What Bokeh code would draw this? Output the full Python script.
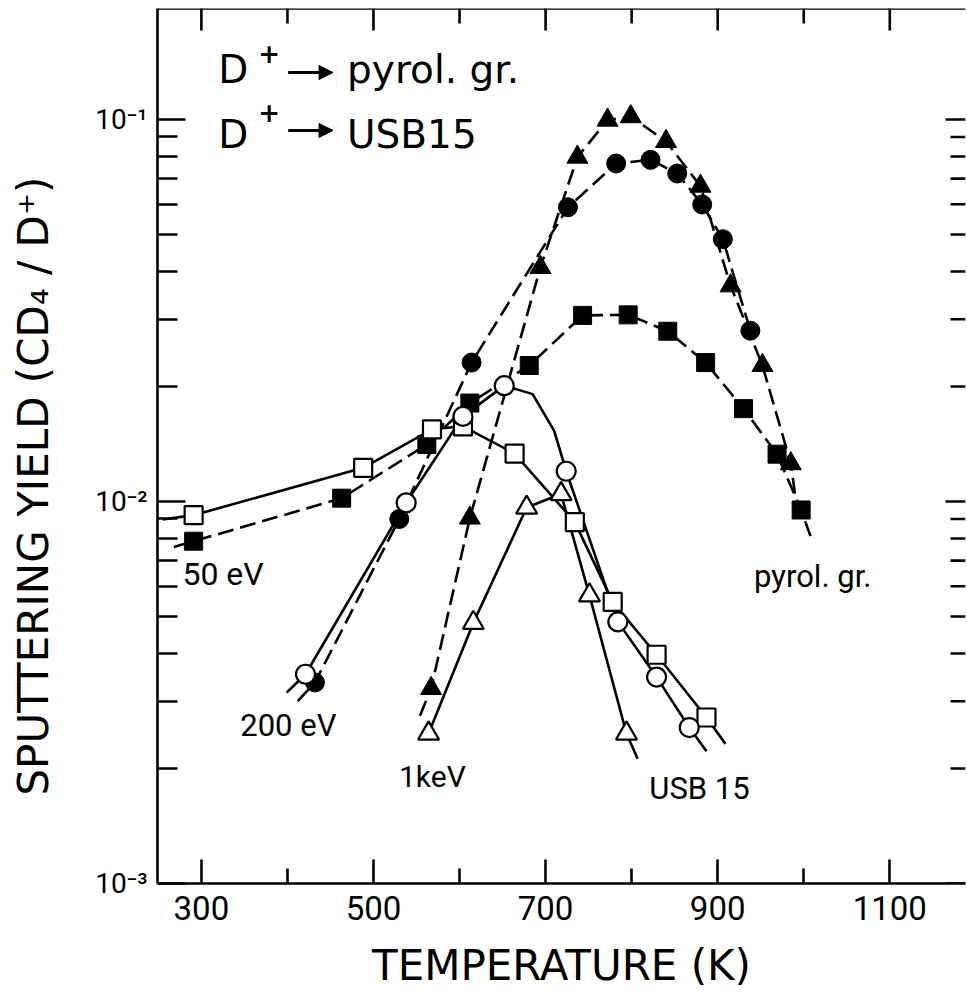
from math import pi
from bokeh.plotting import figure
from bokeh.models import Range1d, FixedTicker, Label, Arrow, NormalHead, Span
from bokeh.embed import file_html
from bokeh.resources import INLINE

# ---------------- data: temperature (K) vs sputtering yield (CD4 / D+) ----------------
# D+ -> pyrolytic graphite (filled symbols, dashed curves)
pg50_T = [291, 463, 562, 612, 681, 743, 796, 842, 886, 930, 969, 997]
pg50_Y = [0.00787, 0.0102, 0.0141, 0.0181, 0.0227, 0.0307, 0.0308, 0.0279, 0.0231, 0.0175, 0.0133, 0.0095]
pg50_ext_T = [268, 1008]
pg50_ext_Y = [0.0076, 0.0081]

pg200_T = [432, 530, 614, 726, 782, 822, 853, 882, 906, 938]
pg200_Y = [0.00336, 0.0090, 0.0231, 0.0589, 0.0767, 0.0784, 0.0722, 0.0599, 0.0486, 0.0280]
pg200_ext_T = [412]
pg200_ext_Y = [0.0030]

pg1k_T = [567, 612, 694, 737, 772, 799, 840, 880, 915, 952, 985]
pg1k_Y = [0.00324, 0.00905, 0.0410, 0.0797, 0.0996, 0.1017, 0.0876, 0.0669, 0.0367, 0.0227, 0.01256]
pg1k_ext_T = [554, 990]
pg1k_ext_Y = [0.00275, 0.0104]

# D+ -> USB 15 (open symbols, solid curves)
u50_T = [291, 488, 568, 604, 664, 734, 778, 829, 887]
u50_Y = [0.00921, 0.01225, 0.01545, 0.01573, 0.01335, 0.00883, 0.00546, 0.00397, 0.00272]
u50_ext_T = [255, 909]
u50_ext_Y = [0.00897, 0.00232]

u200_T = [421, 538, 604, 652, 724, 784, 829, 867]
u200_Y = [0.00353, 0.00992, 0.0167, 0.0201, 0.0120, 0.00484, 0.00347, 0.00256]
u200_ext_T = [399, 685, 710, 887]
u200_ext_Y = [0.00316, 0.0191, 0.0153, 0.00222]

u1k_T = [564, 616, 678, 718, 751, 794]
u1k_Y = [0.00247, 0.00481, 0.00964, 0.01046, 0.00568, 0.00247]
u1k_ext_T = [807]
u1k_ext_Y = [0.00212]

# ticks
x_major = [300, 500, 700, 900, 1100]
x_minor = [400, 600, 800, 1000]
y_major = [0.001, 0.01, 0.1]
y_minor = [0.002, 0.003, 0.004, 0.005, 0.006, 0.007, 0.008, 0.009,
           0.02, 0.03, 0.04, 0.05, 0.06, 0.07, 0.08, 0.09]
y_labels = ["10\u207b\u00b3", "10\u207b\u00b2", "10\u207b\u00b9"]

X0, X1 = 249, 1188
Y0, Y1 = 0.001, 0.1952

NUM_FONT = "Roboto"
TXT_FONT = "DejaVu Sans"
LW = 2.6


def curve(T, Y, eT, eY):
    pts = sorted(zip(list(T) + list(eT), list(Y) + list(eY)))
    return [a for a, _ in pts], [b for _, b in pts]


p = figure(width=967, height=1000, y_axis_type="log",
           x_range=Range1d(X0, X1), y_range=Range1d(Y0, Y1),
           output_backend="svg", toolbar_location=None,
           min_border_left=157, min_border_right=2, min_border_top=8, min_border_bottom=117)
p.background_fill_color = "white"
p.border_fill_color = "white"
p.outline_line_color = None
p.xgrid.grid_line_color = None
p.ygrid.grid_line_color = None


def style_axis(ax, tin, min_in):
    ax.axis_line_width = LW
    ax.axis_line_color = "black"
    ax.major_tick_in = tin
    ax.major_tick_out = 0
    ax.minor_tick_in = min_in
    ax.minor_tick_out = 0
    ax.major_tick_line_width = LW
    ax.minor_tick_line_width = LW
    ax.major_tick_line_color = "black"
    ax.minor_tick_line_color = "black"


xa = p.xaxis[0]
xa.ticker = FixedTicker(ticks=x_major, minor_ticks=x_minor)
style_axis(xa, 24, 15)
xa.major_label_text_font = NUM_FONT
xa.major_label_text_font_size = "33px"
xa.major_label_text_color = "black"
xa.major_label_standoff = 12
xa.axis_label = "TEMPERATURE (K)"
xa.axis_label_text_font = TXT_FONT
xa.axis_label_text_font_size = "42px"
xa.axis_label_text_font_style = "normal"
xa.axis_label_text_color = "black"
xa.axis_label_standoff = 18

ya = p.yaxis[0]
ya.ticker = FixedTicker(ticks=y_major, minor_ticks=y_minor)
style_axis(ya, 28, 20)
ya.major_label_overrides = {v: s for v, s in zip(y_major, y_labels)}
ya.major_label_text_font = NUM_FONT
ya.major_label_text_font_size = "28px"
ya.major_label_text_color = "black"
ya.major_label_standoff = 10
ya.axis_label = "SPUTTERING YIELD (CD\u2084 / D\u207a)" + "\u00a0" * 6
ya.axis_label_text_font = TXT_FONT
ya.axis_label_text_font_size = "42px"
ya.axis_label_text_font_style = "normal"
ya.axis_label_text_color = "black"
ya.axis_label_standoff = 34

# top frame edge (right edge of the original frame lies outside the picture)
p.add_layout(Span(location=Y1, dimension="width", line_color="black", line_width=LW))

# inward ticks on the top and right frame edges (no labels)
p.ray(x=x_major, y=[Y1] * len(x_major), length=22, angle=-pi / 2, length_units="screen",
      line_color="black", line_width=LW)
p.ray(x=x_minor, y=[Y1] * len(x_minor), length=15, angle=-pi / 2, length_units="screen",
      line_color="black", line_width=LW)
p.ray(x=[X1] * len(y_major), y=y_major, length=20, angle=pi, length_units="screen",
      line_color="black", line_width=LW)
p.ray(x=[X1] * len(y_minor), y=y_minor, length=15, angle=pi, length_units="screen",
      line_color="black", line_width=LW)

# curves
DASH = "16 7"
for T, Y, eT, eY, dash in [
    (pg50_T, pg50_Y, pg50_ext_T, pg50_ext_Y, DASH),
    (pg200_T, pg200_Y, pg200_ext_T, pg200_ext_Y, DASH),
    (pg1k_T, pg1k_Y, pg1k_ext_T, pg1k_ext_Y, DASH),
    (u50_T, u50_Y, u50_ext_T, u50_ext_Y, "solid"),
    (u200_T, u200_Y, u200_ext_T, u200_ext_Y, "solid"),
    (u1k_T, u1k_Y, u1k_ext_T, u1k_ext_Y, "solid"),
]:
    cx, cy = curve(T, Y, eT, eY)
    p.line(cx, cy, line_color="black", line_width=LW, line_dash=dash)

# markers
p.scatter(pg50_T, pg50_Y, marker="square", size=18, fill_color="black", line_color="black")
p.scatter(pg200_T, pg200_Y, marker="circle", size=19, fill_color="black", line_color="black")
p.scatter(pg1k_T, pg1k_Y, marker="triangle", size=21, fill_color="black", line_color="black")
p.scatter(u50_T, u50_Y, marker="square", size=18, fill_color="white", line_color="black", line_width=2.2)
p.scatter(u200_T, u200_Y, marker="circle", size=19, fill_color="white", line_color="black", line_width=2.2)
p.scatter(u1k_T, u1k_Y, marker="triangle", size=21, fill_color="white", line_color="black", line_width=2.2)


def lab(x, y, text, font, size, align="left", baseline="middle", style="normal"):
    p.add_layout(Label(x=x, y=y, x_units="data", y_units="data", text=text,
                       text_font=font, text_font_size=size, text_align=align,
                       text_baseline=baseline, text_color="black",
                       text_font_style=style))


# header (reaction labels)
for yc, yplus, yarr, target in [(0.1352, 0.1489, 0.1327, "pyrol. gr."),
                                (0.09135, 0.1049, 0.09359, "USB15")]:
    lab(319.7, yc, "D", TXT_FONT, "39px")
    lab(378.8, yplus, "+", TXT_FONT, "26px", align="center", style="bold")
    p.add_layout(Arrow(end=NormalHead(size=14, fill_color="black", line_color="black"),
                       x_start=400.9, y_start=yarr, x_end=453.0, y_end=yarr,
                       line_width=3, line_color="black"))
    lab(469.3, yc, target, TXT_FONT, "39px")

# curve labels
lab(278.0, 0.006459, "50 eV", NUM_FONT, "32px")
lab(345.2, 0.002592, "200 eV", NUM_FONT, "31px")
lab(529.6, 0.001906, "1keV", NUM_FONT, "30px")
lab(820.6, 0.001768, "USB 15", NUM_FONT, "31px")
lab(942.3, 0.006363, "pyrol. gr.", NUM_FONT, "31px")

open("out.html", "w").write(file_html(p, INLINE))
